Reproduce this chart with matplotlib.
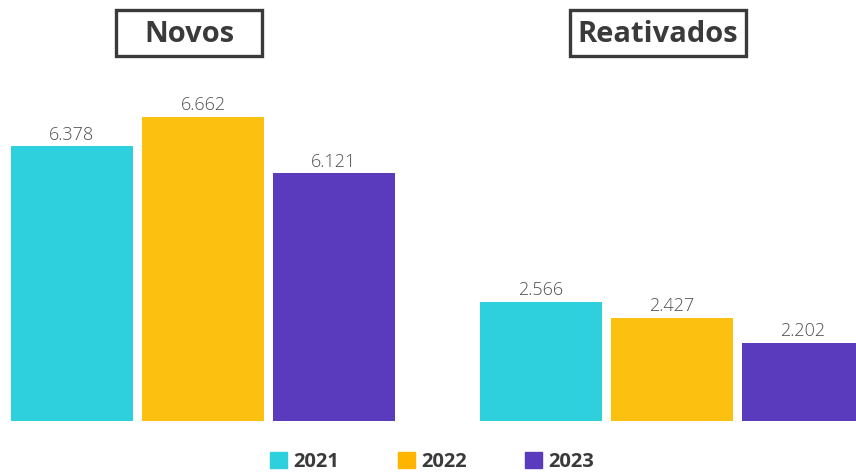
import numpy as np
import matplotlib.pyplot as plt
from matplotlib.patches import Patch, Rectangle

grupos = ['Novos', 'Reativados']
anos = ['2021', '2022', '2023']
novos = [6.378, 6.662, 6.121]
reativados = [2.566, 2.427, 2.202]
cores = ['#2FD0DD', '#FCC010', '#5A3ABD']

plt.rcParams['font.family'] = ['Open Sans', 'DejaVu Sans']

W, H = 856, 476
fig = plt.figure(figsize=(W / 100, H / 100), dpi=100)

# eixos em pixels: base das barras em y=421, topo em y=100
base, topo = 421, 100
ax1 = fig.add_axes([11 / W, (H - base) / H, 384 / W, (base - topo) / H])
ax2 = fig.add_axes([480 / W, (H - base) / H, 384 / W, (base - topo) / H])


def barras(ax, valores, ylim):
    x = np.arange(len(valores))
    bars = ax.bar(x, valores, width=122 / 131, color=cores)
    for b, v in zip(bars, valores):
        ax.text(b.get_x() + b.get_width() / 2, v + 0.025,
                '{:.3f}'.format(v), ha='center', va='bottom',
                fontsize=13, fontweight='light', color='#505050')
    ax.set_xlim(-0.465, 2.465)
    ax.set_ylim(*ylim)
    ax.axis('off')
    return bars


barras(ax1, novos, (3.75, 3.75 + 321 / 104.5))
barras(ax2, reativados, (1.52, 1.52 + 321 / 114.0))

# caixas dos titulos (em pixels)
for (x0, x1), nome in zip([(116, 262), (570, 746)], grupos):
    fig.patches.append(Rectangle((x0 / W, 1 - 56 / H), (x1 - x0) / W, 46 / H,
                                 transform=fig.transFigure, fill=False,
                                 ec='#3a3a3a', lw=2.4))
    fig.text((x0 + x1) / 2 / W, 1 - 34 / H, nome, ha='center', va='center',
             fontsize=21, fontweight='bold', color='#3a3a3a')

handles = [Patch(color=c) for c in ['#2FD0DD', '#FFB400', '#5A3ABD']]
leg = fig.legend(handles, anos, loc='lower center', ncol=3,
                 bbox_to_anchor=(432 / W, -0.03), frameon=False,
                 handlelength=0.85, handleheight=0.85, handletextpad=0.3,
                 columnspacing=2.9,
                 prop={'size': 14.5, 'weight': 'bold'})
for t in leg.get_texts():
    t.set_color('#3a3a3a')

fig.savefig('out.png', dpi=100)
